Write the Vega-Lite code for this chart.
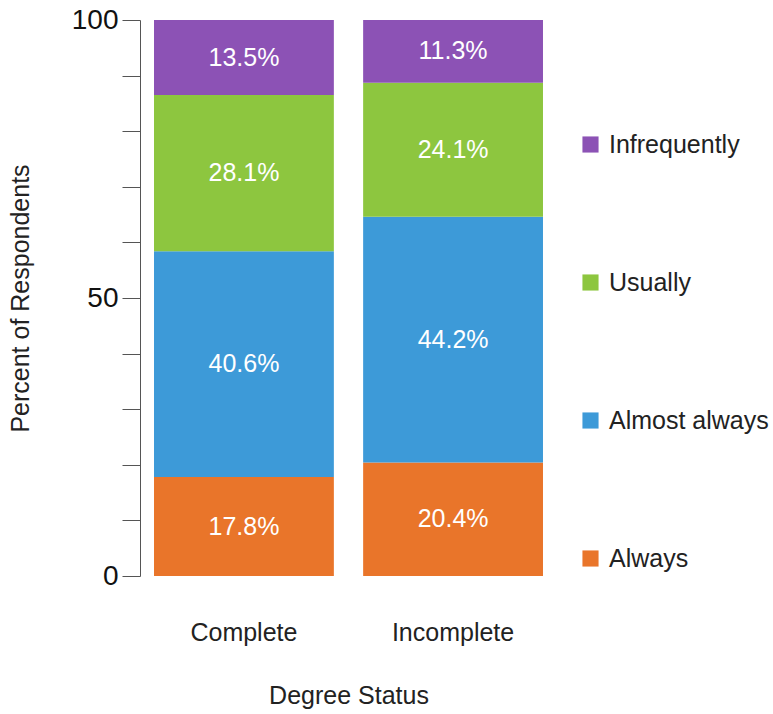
{
  "$schema": "https://vega.github.io/schema/vega-lite/v6.json",
  "autosize": "none",
  "width": 417,
  "height": 556,
  "padding": {"left": 140, "top": 20, "right": 216, "bottom": 138},
  "background": "white",
  "config": {"font": "Liberation Sans", "view": {"stroke": null}},
  "data": {"values": [
    {"status": "Complete", "category": "Always", "rank": 1, "value": 17.8},
    {"status": "Complete", "category": "Almost always", "rank": 2, "value": 40.6},
    {"status": "Complete", "category": "Usually", "rank": 3, "value": 28.1},
    {"status": "Complete", "category": "Infrequently", "rank": 4, "value": 13.5},
    {"status": "Incomplete", "category": "Always", "rank": 1, "value": 20.4},
    {"status": "Incomplete", "category": "Almost always", "rank": 2, "value": 44.2},
    {"status": "Incomplete", "category": "Usually", "rank": 3, "value": 24.1},
    {"status": "Incomplete", "category": "Infrequently", "rank": 4, "value": 11.3}
  ]},
  "transform": [
    {"stack": "value", "groupby": ["status"], "sort": [{"field": "rank", "order": "ascending"}], "as": ["y0", "y1"]},
    {"calculate": "(datum.y0 + datum.y1) / 2", "as": "ymid"},
    {"calculate": "format(datum.value, '.1f') + '%'", "as": "label"}
  ],
  "encoding": {
    "x": {
      "field": "status", "type": "nominal", "title": "Degree Status",
      "scale": {"paddingInner": 0.14, "paddingOuter": 0.067},
      "axis": {"domain": false, "ticks": false, "labelAngle": 0, "labelFontSize": 25, "labelPadding": 44, "labelColor": "#222", "titleFontSize": 25, "titleFontWeight": "normal", "titlePadding": 38, "titleColor": "#222"}
    }
  },
  "layer": [
    {
      "mark": {"type": "bar"},
      "encoding": {
        "y": {"field": "y0", "type": "quantitative", "title": "Percent of Respondents",
          "scale": {"domain": [0, 100], "nice": false},
          "axis": {"values": [0, 10, 20, 30, 40, 50, 60, 70, 80, 90, 100], "labelExpr": "datum.value % 50 === 0 ? datum.label : ''", "grid": false, "tickSize": 18, "tickColor": "#555", "domainColor": "#555", "labelFontSize": 28, "labelColor": "#111", "labelPadding": 4, "titleFontSize": 25, "titleFontWeight": "normal", "titleColor": "#222", "titlePadding": 38}},
        "y2": {"field": "y1"},
        "color": {
          "field": "category", "type": "nominal",
          "scale": {"domain": ["Infrequently", "Usually", "Almost always", "Always"], "range": ["#8c52b5", "#8dc63f", "#3d9ad8", "#e9752a"]},
          "legend": {"title": null, "orient": "none", "legendX": 438, "legendY": 112, "symbolType": "square", "symbolSize": 260, "symbolStrokeWidth": 0, "labelFontSize": 25, "labelColor": "#222", "labelOffset": 6, "rowPadding": 112, "labelLimit": 300}
        }
      }
    },
    {
      "mark": {"type": "text", "color": "white", "fontSize": 25, "baseline": "middle"},
      "encoding": {
        "y": {"field": "ymid", "type": "quantitative"},
        "text": {"field": "label", "type": "nominal"}
      }
    }
  ]
}
